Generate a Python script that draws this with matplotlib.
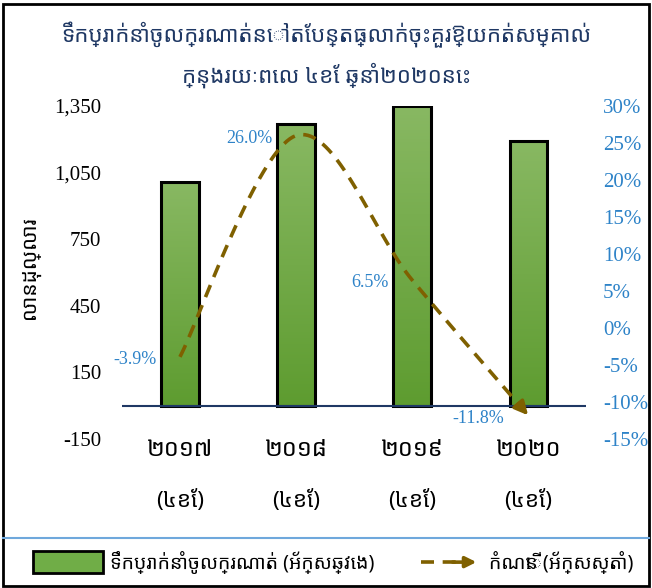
import numpy as np
import matplotlib
matplotlib.use("Agg")
from matplotlib import pyplot as plt, patches
from matplotlib.colors import LinearSegmentedColormap
from matplotlib.lines import Line2D

# data
years = ["២០១៧", "២០១៨", "២០១៩", "២០២០"]
period = "(៤ខែ)"
imports = [1006, 1268, 1350, 1191]  # million USD
growth = [-3.9, 26.0, 6.5, -11.8]   # percent
left_ticks = [-150, 150, 450, 750, 1050, 1350]
right_ticks = [-15, -10, -5, 0, 5, 10, 15, 20, 25, 30]

title1 = "ទឹកប្រាក់នាំចូលក្រណាត់នៅតែបន្តធ្លាក់ចុះគួរឱ្យកត់សម្គាល់"
title2 = "ក្នុងរយៈពេល ៤ខែ ឆ្នាំ២០២០នេះ"
ylabel = "លានដុល្លារ"
legend_bar = "ទឹកប្រាក់នាំចូលក្រណាត់ (អ័ក្សឆ្វេង)"
legend_line = "កំណើន (អ័ក្សស្តាំ)"

khmer = ["Noto Sans Khmer", "Noto Serif Khmer", "Khmer OS", "Khmer OS System",
         "Hanuman", "DejaVu Sans"]
serif = ["Liberation Serif", "DejaVu Serif"]

navy = "#1F3864"
blue = "#2E83C8"
brown = "#7F6000"


def smooth_path(xs, ys, n=40):
    # catmull-rom style bezier like spreadsheet smoothed lines
    pts = np.column_stack([xs, ys]).astype(float)
    ext = np.vstack([pts[0], pts, pts[-1]])
    out = []
    for i in range(len(pts) - 1):
        p0, p1, p2, p3 = ext[i], ext[i + 1], ext[i + 2], ext[i + 3]
        c1 = p1 + (p2 - p0) / 6
        c2 = p2 - (p3 - p1) / 6
        t = np.linspace(0, 1, n)[:, None]
        seg = ((1 - t) ** 3) * p1 + 3 * ((1 - t) ** 2) * t * c1 \
            + 3 * (1 - t) * t ** 2 * c2 + t ** 3 * p2
        out.append(seg if i == 0 else seg[1:])
    out = np.vstack(out)
    return out[:, 0], out[:, 1]


def main():
    fig = plt.figure(figsize=(6.52, 5.88), dpi=100)
    ax = fig.add_axes([0.187, 0.2534, 0.712, 0.5663])
    x = np.arange(len(years))

    cmap = LinearSegmentedColormap.from_list("g", ["#5E9C30", "#88B862"])
    bars = ax.bar(x, imports, width=0.32, color="#70AD47", edgecolor="black",
                  linewidth=2.2, zorder=2)
    for b in bars:
        x0, y0 = b.get_x(), b.get_y()
        grad = np.linspace(0, 1, 100).reshape(-1, 1)
        im = ax.imshow(grad, extent=[x0, x0 + b.get_width(), y0, y0 + b.get_height()],
                       origin="lower", aspect="auto", cmap=cmap, zorder=2.1)
        im.set_clip_path(b)
        b.set_facecolor("none")
        b.set_zorder(2.2)

    ax.axhline(0, color=navy, linewidth=1.5, zorder=3)
    ax.set_xlim(-0.5, 3.5)
    ax.set_ylim(-150, 1350)
    ax.set_yticks(left_ticks)
    ax.set_yticklabels([f"{v:,}" for v in left_ticks], family=serif, fontsize=15)
    ax.tick_params(axis="y", length=0, pad=15)
    ax.set_xticks([])
    for s in ax.spines.values():
        s.set_visible(False)

    for xi, yr in zip(x, years):
        ax.text(xi, -0.032, yr, transform=ax.get_xaxis_transform(), ha="center",
                va="center", fontsize=17, fontweight="bold", family=khmer)
        ax.text(xi, -0.185, period, transform=ax.get_xaxis_transform(), ha="center",
                va="center", fontsize=16, fontweight="bold", family=khmer)

    fig.text(0.046, 0.545, ylabel, rotation=90, ha="center", va="center",
             fontsize=15, family=khmer)

    ax2 = ax.twinx()
    ax2.set_ylim(-15, 30)
    ax2.set_yticks(right_ticks)
    ax2.set_yticklabels([f"{v}%" for v in right_ticks], family=serif,
                        fontsize=15, color=blue)
    ax2.tick_params(axis="y", length=0, pad=12)
    for s in ax2.spines.values():
        s.set_visible(False)

    sx, sy = smooth_path(x, growth)
    ax2.plot(sx[:-3], sy[:-3], color=brown, linewidth=2.6, dashes=(3.6, 2.4), zorder=5)
    ax2.annotate("", xy=(sx[-1], sy[-1]), xytext=(sx[-4], sy[-4]),
                 arrowprops=dict(arrowstyle="-|>", color=brown, lw=2.6,
                                 mutation_scale=20, shrinkA=0, shrinkB=0))
    for xi, g in zip(x, growth):
        ax2.annotate(f"{g:.1f}%", (xi, g), xytext=(-17, -2), textcoords="offset points",
                     ha="right", va="center", fontsize=13, color=blue, family=serif)

    fig.text(0.5, 0.94, title1, ha="center", va="center", fontsize=16,
             fontweight="bold", color=navy, family=khmer)
    fig.text(0.5, 0.872, title2, ha="center", va="center", fontsize=16,
             fontweight="bold", color=navy, family=khmer)

    # separator and outer frame
    fig.add_artist(Line2D([0.005, 0.995], [0.085, 0.085], transform=fig.transFigure,
                          color="#6FA8DC", linewidth=1.5))
    fig.add_artist(patches.Rectangle((0.005, 0.004), 0.99, 0.99, transform=fig.transFigure,
                                     fill=False, edgecolor="black", linewidth=2))

    # legend
    fig.add_artist(patches.Rectangle((0.05, 0.025), 0.108, 0.038, transform=fig.transFigure,
                                     facecolor="#70AD47", edgecolor="black", linewidth=2))
    fig.text(0.168, 0.044, legend_bar, ha="left", va="center", fontsize=14,
             fontweight="bold", family=khmer)
    fig.add_artist(Line2D([0.645, 0.7], [0.044, 0.044], transform=fig.transFigure,
                          color=brown, linewidth=2.6, dashes=(3.6, 2.4)))
    fig.add_artist(patches.FancyArrowPatch((0.69, 0.044), (0.735, 0.044),
                                           transform=fig.transFigure, arrowstyle="-|>",
                                           mutation_scale=16, color=brown, lw=2.6))
    fig.text(0.75, 0.044, legend_line, ha="left", va="center", fontsize=14,
             fontweight="bold", family=khmer)

    fig.savefig("out.png", dpi=100)


if __name__ == "__main__":
    main()
